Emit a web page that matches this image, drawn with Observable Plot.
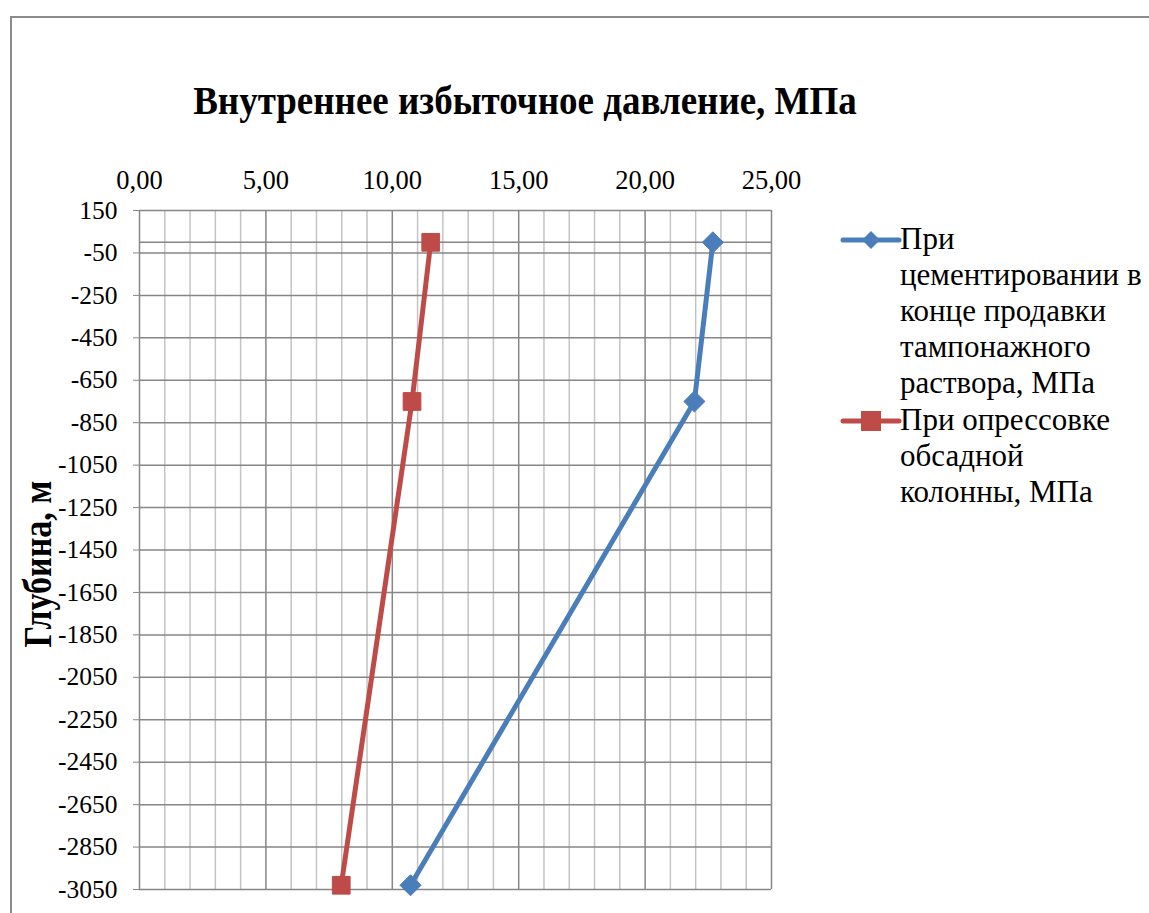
<!DOCTYPE html>
<html>
<head>
<meta charset="utf-8">
<script src="https://cdn.jsdelivr.net/npm/d3@7"></script>
<script src="https://cdn.jsdelivr.net/npm/@observablehq/plot@0.6"></script>
<style>
  html, body { margin:0; padding:0; background:#fff; }
  body { width:1149px; height:913px; position:relative; overflow:hidden; font-family:"Liberation Serif", "Times New Roman", serif; }
  #frame { position:absolute; left:10px; top:16px; width:1200px; height:1000px; border-left:2px solid #8c8c8c; border-top:2px solid #8c8c8c; }
  #title { position:absolute; left:0; width:1050px; top:81px; text-align:center; font-weight:bold; font-size:37px; line-height:1; white-space:nowrap; transform-origin:50% 0; transform:scaleY(1.07); }
  #ylab { position:absolute; left:38px; top:564px; transform:translate(-50%,-50%) rotate(-90deg) scaleY(1.15); font-weight:bold; font-size:34px; line-height:1; white-space:nowrap; }
  #chart { position:absolute; left:0; top:0; }
  .leg { position:absolute; left:900px; font-size:31px; line-height:36px; white-space:nowrap; font-family:"Liberation Serif", "Times New Roman", serif; }
  .legsym { position:absolute; left:840px; }
</style>
</head>
<body>
<div id="frame"></div>
<div id="chart"></div>
<div id="title">Внутреннее избыточное давление, МПа</div>
<div id="ylab">Глубина, м</div>
<script>
// Data
const depth = [0, -750, -3030];
const cementing = [22.68, 21.95, 10.72];   // При цементировании в конце продавки тампонажного раствора, МПа
const testing = [11.52, 10.78, 7.98];      // При опрессовке обсадной колонны, МПа
const seriesNames = ["При цементировании в конце продавки тампонажного раствора, МПа", "При опрессовке обсадной колонны, МПа"];
const seriesColors = ["#4a7ebb", "#be4b48"];
const xTicks = [0, 5, 10, 15, 20, 25];
const xMinor = [1,2,3,4,6,7,8,9,11,12,13,14,16,17,18,19,21,22,23,24];
const yTicks = [150, -50, -250, -450, -650, -850, -1050, -1250, -1450, -1650, -1850, -2050, -2250, -2450, -2650, -2850, -3050];

const rows1 = depth.map((d, i) => ({x: cementing[i], y: d}));
const rows2 = depth.map((d, i) => ({x: testing[i], y: d}));

const chart = Plot.plot({
  width: 1149, height: 913,
  marginLeft: 139, marginRight: 378, marginTop: 210, marginBottom: 24,
  style: {fontFamily: "'Liberation Serif', 'Times New Roman', serif", background: "transparent", overflow: "visible"},
  x: {domain: [0, 25], axis: null},
  y: {domain: [-3050, 150], axis: null},
  marks: [
    Plot.ruleX(xMinor, {stroke: "#c4c4c4", strokeWidth: 1.5}),
    Plot.ruleX(xTicks, {stroke: "#868686", strokeWidth: 1.5}),
    Plot.ruleY(yTicks, {stroke: "#868686", strokeWidth: 1.5}),
    Plot.ruleY([0], {stroke: "#868686", strokeWidth: 1.5}),
    Plot.axisX({anchor: "top", ticks: xTicks, label: null, tickFormat: d => d.toFixed(2).replace(".", ","), tickSize: 0, tickPadding: 22, fontSize: 26.5, fill: "black"}),
    Plot.axisY({anchor: "left", ticks: yTicks, label: null, tickFormat: d => String(d), tickSize: 6, tickPadding: 16, fontSize: 25.5, stroke: "#868686", fill: "black"}),
    Plot.line(rows1, {x: "x", y: "y", stroke: seriesColors[0], strokeWidth: 5}),
    Plot.line(rows2, {x: "x", y: "y", stroke: seriesColors[1], strokeWidth: 5}),
    Plot.dot(rows1, {x: "x", y: "y", symbol: "diamond2", r: 9.5, fill: seriesColors[0], stroke: seriesColors[0], strokeWidth: 1}),
    Plot.dot(rows2, {x: "x", y: "y", symbol: "square", r: 10, fill: seriesColors[1], stroke: seriesColors[1], strokeWidth: 1})
  ]
});
document.getElementById("chart").appendChild(chart);

// Legend
const legLines = [
  ["При", "цементировании в", "конце продавки", "тампонажного", "раствора, МПа"],
  ["При опрессовке", "обсадной", "колонны, МПа"]
];
const legTops = [221, 402];
const symTops = [240, 421];
legLines.forEach((lines, i) => {
  const div = document.createElement("div");
  div.className = "leg";
  div.style.top = legTops[i] + "px";
  div.innerHTML = lines.join("<br>");
  document.body.appendChild(div);
  const ns = "http://www.w3.org/2000/svg";
  const svg = document.createElementNS(ns, "svg");
  svg.setAttribute("width", 62); svg.setAttribute("height", 24);
  svg.setAttribute("class", "legsym");
  svg.style.top = (symTops[i] - 12) + "px";
  const ln = document.createElementNS(ns, "line");
  ln.setAttribute("x1", 3); ln.setAttribute("x2", 59); ln.setAttribute("y1", 12); ln.setAttribute("y2", 12);
  ln.setAttribute("stroke", seriesColors[i]); ln.setAttribute("stroke-width", 5); ln.setAttribute("stroke-linecap", "round");
  svg.appendChild(ln);
  const m = document.createElementNS(ns, "path");
  m.setAttribute("d", i === 0 ? "M31,3L40,12L31,21L22,12Z" : "M21,2H41V22H21Z");
  m.setAttribute("fill", seriesColors[i]);
  svg.appendChild(m);
  document.body.appendChild(svg);
});
</script>
</body>
</html>
